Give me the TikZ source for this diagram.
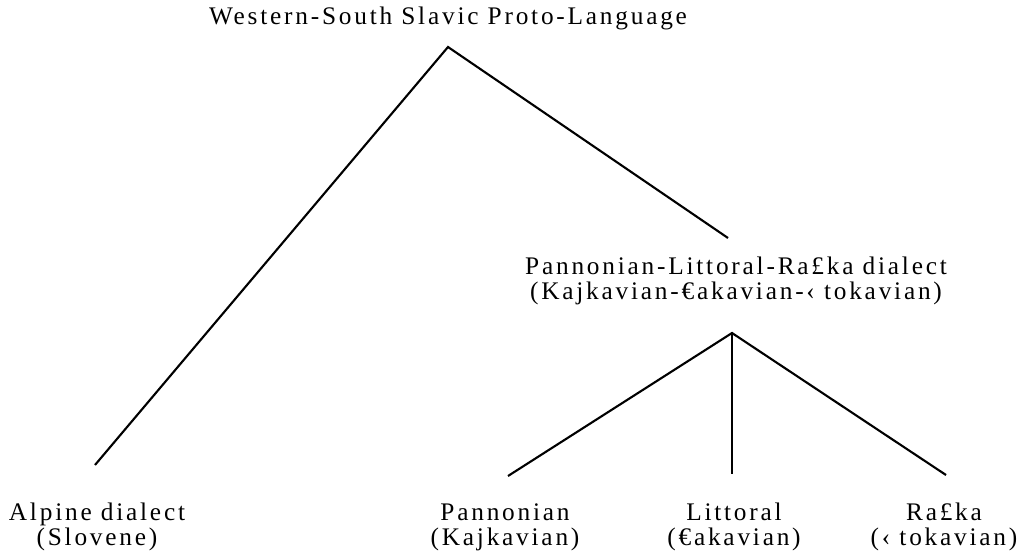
\documentclass[tikz,border=0pt]{standalone}
\usepackage{fontspec}
\setmainfont{Liberation Serif}[LetterSpace=11]
\usepackage{tikz}

\begin{document}
\begin{tikzpicture}[x=0.025cm,y=-0.025cm,
    lang/.style={align=center,inner sep=0pt,anchor=base,
        font=\fontsize{18}{17.6}\selectfont},
    branch/.style={line width=1.5pt}]
\useasboundingbox (0,0) rectangle (1026,559);

%% HELP LINES - uncomment to check against the scan
% \draw[step=100,gray,very thin] (0,0) grid (1026,559);

% PROTO-LANGUAGE
\node[lang] (proto) at (448,24) {Western-South Slavic Proto-Language};
\coordinate (protofork) at (448,47);

% ALPINE (base anchor sits on the last line)
\node[lang] (alpine) at (97,545) {Alpine dialect\\(Slovene)};
\coordinate (alpinetop) at (95,465);

% PANNONIAN-LITTORAL-RASKA
\node[lang] (plr) at (736,299) {Pannonian-Littoral-Ra£ka dialect\\(Kajkavian-€akavian-‹ tokavian)};
\coordinate (plrtop) at (728,238);
\coordinate (plrfork) at (732,333);

% PANNONIAN
\node[lang] (pann) at (505,545) {Pannonian\\(Kajkavian)};
\coordinate (panntop) at (508,476);

% LITTORAL
\node[lang] (litt) at (734,545) {Littoral\\(€akavian)};
\coordinate (litttop) at (732,474);

% RASKA
\node[lang] (raska) at (944,545) {Ra£ka\\(‹ tokavian)};
\coordinate (raskatop) at (946,475);

% BRANCHES
\draw[branch] (alpinetop) -- (protofork) -- (plrtop);
\draw[branch] (panntop) -- (plrfork) -- (raskatop);
\draw[branch] (plrfork) -- (litttop);
\end{tikzpicture}
\end{document}
